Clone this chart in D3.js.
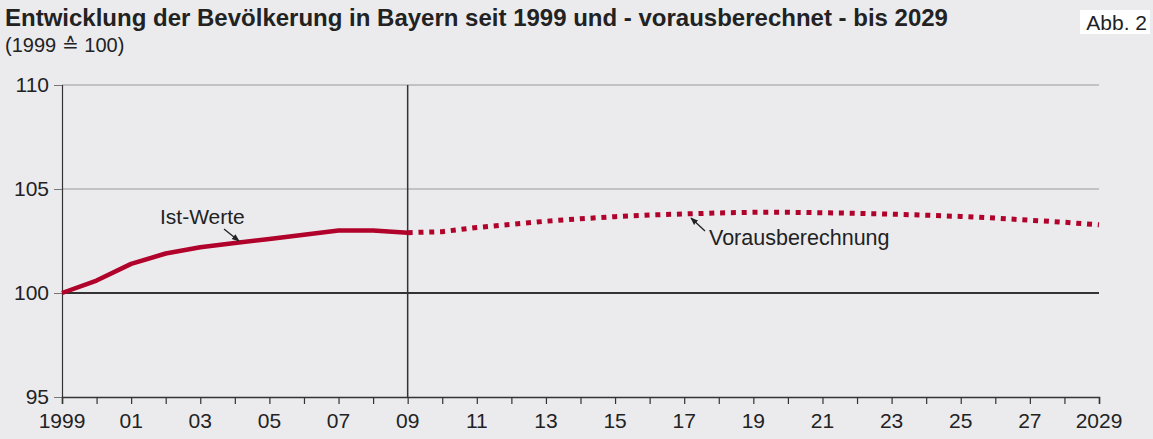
<!DOCTYPE html>
<html>
<head>
<meta charset="utf-8">
<script src="https://cdn.jsdelivr.net/npm/d3@7"></script>
<style>
  body { margin: 0; background: #ebebee; }
  svg { display: block; font-family: "Liberation Sans", Arial, sans-serif; }
</style>
</head>
<body>
<div id="chart"></div>
<script>
// observed values (1999 = 100)
const istYears = [1999, 2000, 2001, 2002, 2003, 2004, 2005, 2006, 2007, 2008, 2009];
const istValues = [100, 100.6, 101.4, 101.9, 102.2, 102.4, 102.6, 102.8, 103.0, 103.0, 102.9];

// projection
const projYears = [2009, 2010, 2011, 2012, 2013, 2014, 2015, 2016, 2017, 2018, 2019,
  2020, 2021, 2022, 2023, 2024, 2025, 2026, 2027, 2028, 2029];
const projValues = [102.9, 102.95, 103.15, 103.3, 103.45, 103.57, 103.67, 103.75, 103.8, 103.85, 103.88,
  103.88, 103.86, 103.83, 103.79, 103.74, 103.68, 103.6, 103.5, 103.4, 103.28];

const yTicks = [95, 100, 105, 110];
const xLabelYears = [1999, 2001, 2003, 2005, 2007, 2009, 2011, 2013, 2015, 2017, 2019, 2021, 2023, 2025, 2027, 2029];

const width = 1153, height = 439;
const red = '#b0022a';
const ink = '#222';

const svg = d3.select('#chart').append('svg')
  .attr('width', width)
  .attr('height', height);

const x = d3.scaleLinear().domain([1999, 2029]).range([62, 1099]);
const y = d3.scaleLinear().domain([95, 110]).range([397, 85]);

// title
svg.append('text')
  .attr('x', 5).attr('y', 26)
  .attr('font-size', 24).attr('font-weight', 'bold').attr('fill', ink)
  .text('Entwicklung der Bevölkerung in Bayern seit 1999 und - vorausberechnet - bis 2029');
svg.append('text')
  .attr('x', 5).attr('y', 52)
  .attr('font-size', 20).attr('fill', ink)
  .text('(1999 ≙ 100)');

// Abb. label
svg.append('rect')
  .attr('x', 1080).attr('y', 10).attr('width', 70).attr('height', 24)
  .attr('fill', '#fff');
svg.append('text')
  .attr('x', 1147).attr('y', 30).attr('text-anchor', 'end')
  .attr('font-size', 21).attr('fill', ink)
  .text('Abb. 2');

// grid lines
svg.append('g')
  .selectAll('line')
  .data(yTicks.filter(d => d > 100))
  .join('line')
  .attr('x1', x(1999)).attr('x2', x(2029))
  .attr('y1', d => y(d)).attr('y2', d => y(d))
  .attr('stroke', '#999').attr('stroke-width', 1.2);

svg.append('line')
  .attr('x1', x(1999)).attr('x2', x(2029))
  .attr('y1', y(100)).attr('y2', y(100))
  .attr('stroke', '#333').attr('stroke-width', 1.8);

// vertical divider at 2009
svg.append('line')
  .attr('x1', x(2009)).attr('x2', x(2009))
  .attr('y1', y(110)).attr('y2', y(95))
  .attr('stroke', '#333').attr('stroke-width', 1.5);

// y axis
const yAxis = svg.append('g')
  .attr('transform', `translate(${x(1999)},0)`)
  .call(d3.axisLeft(y).tickValues(yTicks).tickSize(8).tickPadding(5));
yAxis.select('.domain').attr('stroke', '#333').attr('stroke-width', 1.2);
yAxis.selectAll('.tick line').attr('stroke', '#777');
yAxis.selectAll('.tick text')
  .attr('font-size', 21).attr('fill', ink)
  .attr('font-family', '"Liberation Sans", Arial, sans-serif');

// x axis
const xAxis = svg.append('g')
  .attr('transform', `translate(0,${y(95)})`)
  .call(d3.axisBottom(x).tickValues(d3.range(1999, 2030)).tickSize(7).tickFormat(''));
xAxis.select('.domain').attr('stroke', '#333').attr('stroke-width', 1.5);
xAxis.selectAll('.tick line').attr('stroke', '#333').attr('stroke-width', 1.2);

svg.append('g')
  .selectAll('text')
  .data(xLabelYears)
  .join('text')
  .attr('x', d => x(d))
  .attr('y', 428)
  .attr('text-anchor', 'middle')
  .attr('font-size', 21).attr('fill', ink)
  .text(d => (d === 1999 || d === 2029) ? d : String(d % 100).padStart(2, '0'));

// lines
const line = d3.line().x(d => x(d[0])).y(d => y(d[1]));

svg.append('path')
  .datum(d3.zip(projYears, projValues))
  .attr('d', line)
  .attr('fill', 'none')
  .attr('stroke', red)
  .attr('stroke-width', 5)
  .attr('stroke-dasharray', '5,5.8');

svg.append('path')
  .datum(d3.zip(istYears, istValues))
  .attr('d', line)
  .attr('fill', 'none')
  .attr('stroke', red)
  .attr('stroke-width', 4.5)
  .attr('stroke-linejoin', 'round');

// annotations
svg.append('defs').append('marker')
  .attr('id', 'arr')
  .attr('viewBox', '0 0 10 10')
  .attr('refX', 9).attr('refY', 5)
  .attr('markerWidth', 6).attr('markerHeight', 6)
  .attr('orient', 'auto')
  .append('path').attr('d', 'M0,1 L10,5 L0,9 Z').attr('fill', ink);

svg.append('text')
  .attr('x', 160).attr('y', 224)
  .attr('font-size', 21).attr('fill', ink)
  .text('Ist-Werte');
svg.append('line')
  .attr('x1', 224).attr('y1', 229).attr('x2', 239).attr('y2', 241)
  .attr('stroke', ink).attr('stroke-width', 1.3)
  .attr('marker-end', 'url(#arr)');

svg.append('text')
  .attr('x', 709).attr('y', 245)
  .attr('font-size', 21.5).attr('fill', ink)
  .text('Vorausberechnung');
svg.append('line')
  .attr('x1', 705).attr('y1', 231).attr('x2', 691).attr('y2', 218)
  .attr('stroke', ink).attr('stroke-width', 1.3)
  .attr('marker-end', 'url(#arr)');
</script>
</body>
</html>
